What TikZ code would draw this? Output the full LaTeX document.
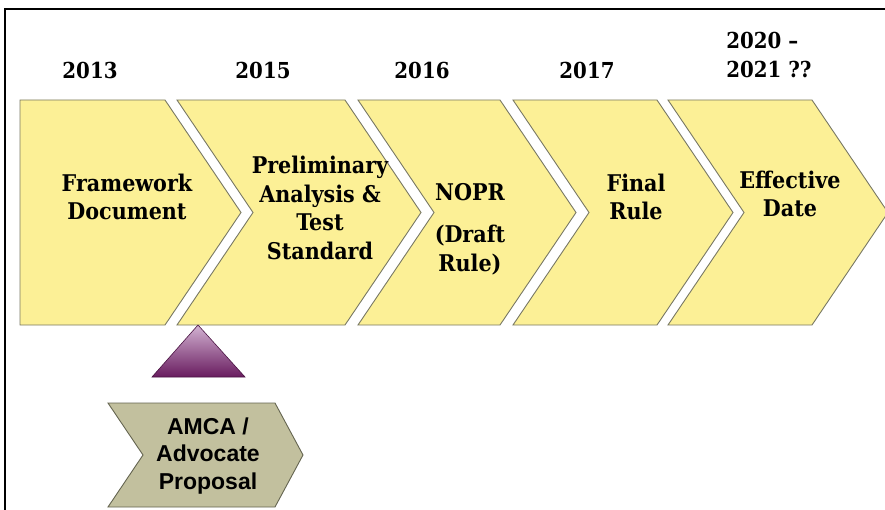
\documentclass[tikz,border=0pt]{standalone}
\usepackage{fontspec}
\newfontfamily\arialfont{Liberation Sans}
\newfontfamily\labelfont[Ligatures=TeX]{DejaVu Serif Condensed}
\usepackage{tikz}
\usetikzlibrary{positioning}
\definecolor{chevfill}{RGB}{252,240,150}
\definecolor{chevline}{RGB}{120,120,100}
\definecolor{olivefill}{RGB}{194,192,158}
\definecolor{olivedark}{RGB}{100,100,80}
\definecolor{purplelight}{RGB}{210,178,210}
\definecolor{purpledark}{RGB}{105,28,95}
\tikzset{
  chev/.style={fill=chevfill, draw=chevline, line width=0.9pt},
  lbl/.style={font=\labelfont\bfseries\fontsize{23}{28.5}\selectfont, align=center, inner sep=0pt},
  yr/.style={lbl, font=\labelfont\bfseries\fontsize{22}{28.5}\selectfont},
  prop/.style={font=\arialfont\bfseries\fontsize{23}{27.5}\selectfont, align=center, inner sep=0pt}
}
% chevron: left x, top-right x, notch depth
\newcommand{\stepchev}[3]{%
  \filldraw[chev] (#1,100) -- (#2,100) -- ({#2+76},212.5) -- (#2,325) -- (#1,325) -- ({#1+#3},212.5) -- cycle;}

\begin{document}
\begin{tikzpicture}[x=1pt, y=-1pt]
\useasboundingbox (0,0) rectangle (885,510);
\draw[line width=2pt] (5,512) -- (5,9) -- (887,9);
% main timeline
\stepchev{20}{165}{0}
\stepchev{177}{345}{76}
\stepchev{358}{500}{76}
\stepchev{513}{657}{76}
\stepchev{668}{812}{76}
\node[lbl] (framework) at (127,197) {Framework\\Document};
\node[lbl] (prelim) at (320,208) {Preliminary\\Analysis \&\\Test\\Standard};
\node[lbl] (nopr) at (470,229) {NOPR\\[14pt](Draft\\Rule)};
\node[lbl] (final) at (636,197) {Final\\Rule};
\node[lbl] (effective) at (790,194) {Effective\\Date};
% years
\node[yr] (y2013) at (90,70) {2013};
\node[yr] (y2015) at (263,70) {2015};
\node[yr] (y2016) at (422,70) {2016};
\node[yr] (y2017) at (587,70) {2017};
\node[yr, align=left] (y2020) at (769,55) {2020 --\\2021 ??};
% proposal marker
\shade[top color=purplelight, bottom color=purpledark, draw=purpledark!70!black, line width=0.6pt]
  (198,325) -- (245,377) -- (152,377) -- cycle;
\filldraw[fill=olivefill, draw=olivedark, line width=0.9pt]
  (108,403) -- (275,403) -- (303,455) -- (275,507) -- (108,507) -- (143,455) -- cycle;
\node[prop] (amca) at (208,456) {AMCA /\\Advocate\\Proposal};
\end{tikzpicture}
\end{document}
